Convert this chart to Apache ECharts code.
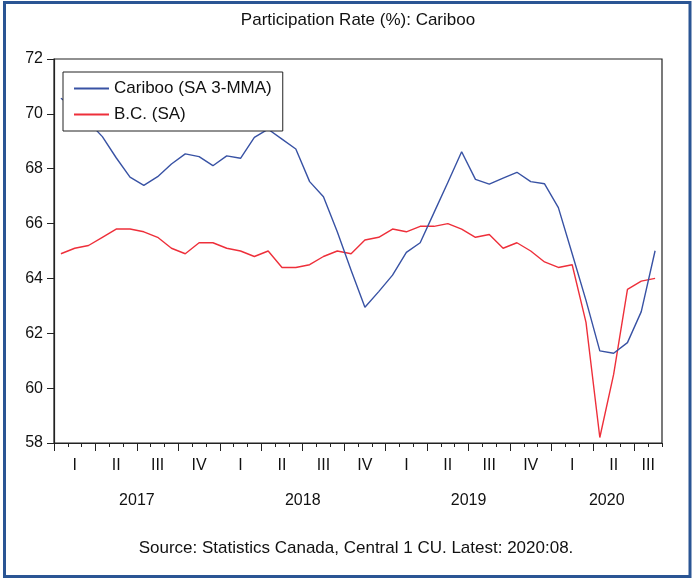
<!DOCTYPE html>
<html>
<head>
<meta charset="utf-8">
<script src="https://cdn.jsdelivr.net/npm/echarts@6/dist/echarts.min.js"></script>
<style>
  html, body { margin: 0; padding: 0; background: #fff; }
  #chart { width: 693px; height: 580px; }
</style>
</head>
<body>
<div id="chart"></div>
<script>
// Monthly series, 2017:01 to 2020:08
const years = ['2017', '2018', '2019', '2020'];
const monthsInLastYear = 8;
const quarterLabels = ['I', 'II', 'III', 'IV'];

const cariboo = [70.57, 70.2, 69.7, 69.17, 68.4, 67.69, 67.39, 67.71, 68.17, 68.54, 68.44, 68.11,
                 68.47, 68.38, 69.14, 69.44, 69.08, 68.72, 67.53, 66.98, 65.7, 64.3, 62.95, 63.52,
                 64.12, 64.95, 65.3, 66.4, 67.5, 68.62, 67.61, 67.44, 67.66, 67.87, 67.53, 67.45,
                 66.58, 64.9, 63.2, 61.36, 61.27, 61.66, 62.79, 65.01];
const bc = [64.9, 65.1, 65.2, 65.5, 65.8, 65.8, 65.7, 65.5, 65.1, 64.9, 65.3, 65.3,
            65.1, 65.0, 64.8, 65.0, 64.4, 64.4, 64.5, 64.8, 65.0, 64.9, 65.4, 65.5,
            65.8, 65.7, 65.9, 65.9, 66.0, 65.8, 65.5, 65.6, 65.1, 65.3, 65.0, 64.6,
            64.4, 64.5, 62.4, 58.2, 60.5, 63.6, 63.9, 64.0];

const yTicks = { min: 58, max: 72, interval: 2 };

// Month categories (e.g. 2017:01)
const months = [];
years.forEach((y, yi) => {
  const n = yi === years.length - 1 ? monthsInLastYear : 12;
  for (let m = 1; m <= n; m++) months.push(y + ':' + String(m).padStart(2, '0'));
});
const nMonths = months.length;

// Half-month boundary grid: position j sits at j/2 months from the axis start.
// Quarter and year labels go at the centre of the months they cover.
const halfSteps = nMonths * 2 + 1;
const quarterRow = new Array(halfSteps).fill('');
const yearRow = new Array(halfSteps).fill('');
for (let first = 0; first < nMonths; first += 3) {
  const last = Math.min(first + 2, nMonths - 1);
  quarterRow[first + last + 1] = quarterLabels[(first / 3) % 4];
}
years.forEach((y, yi) => {
  const first = yi * 12;
  const last = Math.min(first + 11, nMonths - 1);
  yearRow[first + last + 1] = y;
});
const halfGrid = quarterRow.map((_, j) => 'h' + j);

const FONT = '"Liberation Sans", Arial, sans-serif';
const TEXT = '#111';
const AXIS = '#222';

const chart = echarts.init(document.getElementById('chart'), null, { renderer: 'canvas' });

chart.setOption({
  animation: false,
  backgroundColor: '#fff',
  textStyle: { fontFamily: FONT, color: TEXT },
  grid: {
    left: 54, right: 31, top: 59, bottom: 137,
    show: true, borderColor: AXIS, borderWidth: 1.2, backgroundColor: 'transparent'
  },
  legend: {
    orient: 'vertical',
    left: 63, top: 72,
    padding: [8, 11, 8, 10],
    itemGap: 9,
    itemWidth: 35, itemHeight: 14,
    backgroundColor: '#fff',
    borderColor: AXIS, borderWidth: 1,
    itemStyle: { opacity: 0 },
    textStyle: { fontFamily: FONT, fontSize: 17, color: TEXT },
    data: ['Cariboo (SA 3-MMA)', 'B.C. (SA)']
  },
  xAxis: [
    {
      type: 'category',
      position: 'bottom',
      data: months,
      boundaryGap: true,
      axisLine: { show: true, lineStyle: { color: AXIS, width: 1.2 } },
      axisTick: { show: true, interval: 0, length: 4, lineStyle: { color: AXIS } },
      axisLabel: { show: false },
      splitLine: { show: false }
    },
    {
      type: 'category',
      position: 'bottom',
      data: halfGrid,
      boundaryGap: false,
      axisLine: { show: false },
      axisTick: { show: true, interval: (j) => j % 6 === 0, length: 8, lineStyle: { color: AXIS } },
      axisLabel: {
        show: true, interval: 0, margin: 15,
        fontSize: 16, color: TEXT, fontFamily: FONT,
        formatter: (v, j) => quarterRow[j]
      },
      splitLine: { show: false }
    },
    {
      type: 'category',
      position: 'bottom',
      data: halfGrid,
      boundaryGap: false,
      axisLine: { show: false },
      axisTick: { show: false },
      axisLabel: {
        show: true, interval: 0, margin: 50,
        fontSize: 16, color: TEXT, fontFamily: FONT,
        formatter: (v, j) => yearRow[j]
      },
      splitLine: { show: false }
    }
  ],
  yAxis: {
    type: 'value',
    min: yTicks.min, max: yTicks.max, interval: yTicks.interval,
    axisLine: { show: true, lineStyle: { color: AXIS, width: 1.2 } },
    axisTick: { show: true, length: 7, lineStyle: { color: AXIS } },
    axisLabel: { fontSize: 16, color: TEXT, fontFamily: FONT, margin: 11 },
    splitLine: { show: false }
  },
  series: [
    {
      name: 'Cariboo (SA 3-MMA)',
      type: 'line',
      data: cariboo,
      symbol: 'none',
      lineStyle: { color: '#3852a4', width: 1.4 },
      itemStyle: { color: '#3852a4' },
      z: 3
    },
    {
      name: 'B.C. (SA)',
      type: 'line',
      data: bc,
      symbol: 'none',
      lineStyle: { color: '#ee2f3a', width: 1.4 },
      itemStyle: { color: '#ee2f3a' },
      z: 2
    }
  ],
  graphic: [
    {
      type: 'rect',
      shape: { x: 4.5, y: 2.5, width: 685.5, height: 574 },
      style: { fill: 'none', stroke: '#2a5594', lineWidth: 3 },
      silent: true
    },
    {
      type: 'text',
      x: 358, y: 20,
      style: {
        text: 'Participation Rate (%): Cariboo',
        font: '17px ' + FONT, fill: TEXT,
        align: 'center', verticalAlign: 'middle'
      }
    },
    {
      type: 'text',
      x: 356, y: 548,
      style: {
        text: 'Source: Statistics Canada, Central 1 CU. Latest: 2020:08.',
        font: '17px ' + FONT, fill: TEXT,
        align: 'center', verticalAlign: 'middle'
      }
    }
  ]
});
</script>
</body>
</html>
